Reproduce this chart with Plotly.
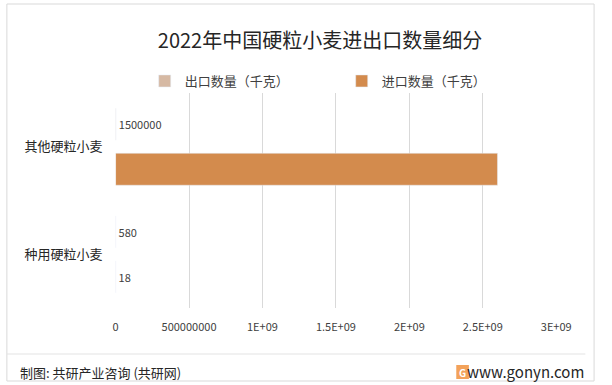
import plotly.graph_objects as go

categories = ["其他硬粒小麦", "种用硬粒小麦"]
export_vals = [1500000, 580]
import_vals = [2600000000, 18]
series_names = ["出口数量（千克）", "进口数量（千克）"]
tick_vals = [0, 500000000, 1000000000, 1500000000, 2000000000, 2500000000, 3000000000]
tick_text = ["0", "500000000", "1E+09", "1.5E+09", "2E+09", "2.5E+09", "3E+09"]

W, H = 612, 385
FONT = "Noto Sans CJK SC"

export_text = [str(v) for v in export_vals]
import_text = ["" if v >= 1e9 else str(v) for v in import_vals]

fig = go.Figure()
fig.add_trace(go.Bar(
    y=categories, x=export_vals, orientation="h", name=series_names[0],
    marker=dict(color="#D6B9A3"), text=export_text, textposition="outside",
    textfont=dict(size=11, color="#404040", family=FONT), cliponaxis=False,
))
fig.add_trace(go.Bar(
    y=categories, x=import_vals, orientation="h", name=series_names[1],
    marker=dict(color="#D38B4D"), text=import_text, textposition="outside",
    textfont=dict(size=11, color="#404040", family=FONT), cliponaxis=False,
))

def px(x):
    return x / W

def py(y):
    return 1 - y / H

fig.update_layout(
    width=W, height=H, autosize=False,
    margin=dict(l=0, r=0, t=0, b=0),
    paper_bgcolor="white", plot_bgcolor="white",
    font=dict(family=FONT, color="#404040"),
    barmode="group", bargap=0.163, bargroupgap=0.29,
    title=dict(text="2022年中国硬粒小麦进出口数量细分", x=px(320), xanchor="center",
               y=py(41), yanchor="middle", font=dict(size=20, color="#262626", family=FONT)),
    legend=dict(orientation="h", x=px(146), xanchor="left", y=py(81), yanchor="middle",
                font=dict(size=13, color="#404040", family=FONT), entrywidth=152,
                traceorder="normal", bgcolor="rgba(0,0,0,0)"),
    xaxis=dict(domain=[px(116), px(570)], range=[0, 3000000000], tickvals=tick_vals,
               ticktext=tick_text, showgrid=True, gridcolor="#D9D9D9", gridwidth=1,
               zeroline=False, showline=False, ticks="", ticklabelstandoff=11,
               tickfont=dict(size=11, color="#404040", family=FONT), fixedrange=True),
    yaxis=dict(domain=[py(308), py(93)], autorange="reversed", showgrid=False,
               zeroline=False, showline=False, ticks="", ticklabelstandoff=12,
               tickfont=dict(size=13, color="#262626", family=FONT)),
    shapes=[
        dict(type="rect", xref="paper", yref="paper", x0=px(4), x1=px(609), y0=py(381), y1=py(4),
             line=dict(color="#D9D9D9", width=1), layer="below"),
        dict(type="line", xref="paper", yref="paper", x0=px(4), x1=px(600), y0=py(354), y1=py(354),
             line=dict(color="#E3E3E3", width=1)),
        dict(type="rect", xref="paper", yref="paper", x0=px(467), x1=px(480), y0=py(379), y1=py(365),
             line=dict(width=0), fillcolor="#F3A25A"),
    ],
    annotations=[
        dict(text="制图: 共研产业咨询 (共研网)", x=px(15), y=py(372), xref="paper", yref="paper",
             xanchor="left", yanchor="middle", showarrow=False,
             font=dict(size=13, color="#262626", family=FONT)),
        dict(text="www.gonyn.com", x=px(601), y=py(371), xref="paper", yref="paper",
             xanchor="right", yanchor="middle", showarrow=False,
             font=dict(size=15, color="#262626", family=FONT)),
        dict(text="<b>G</b>", x=px(473.5), y=py(372), xref="paper", yref="paper",
             xanchor="center", yanchor="middle", showarrow=False,
             font=dict(size=10, color="white", family=FONT)),
    ],
)

post = """
document.documentElement.style.overflow='hidden';
document.body.style.margin='0';
document.body.style.overflow='hidden';
"""

fig.write_html(
    "out.html",
    config={"responsive": False, "displayModeBar": False},
    post_script=post,
)
